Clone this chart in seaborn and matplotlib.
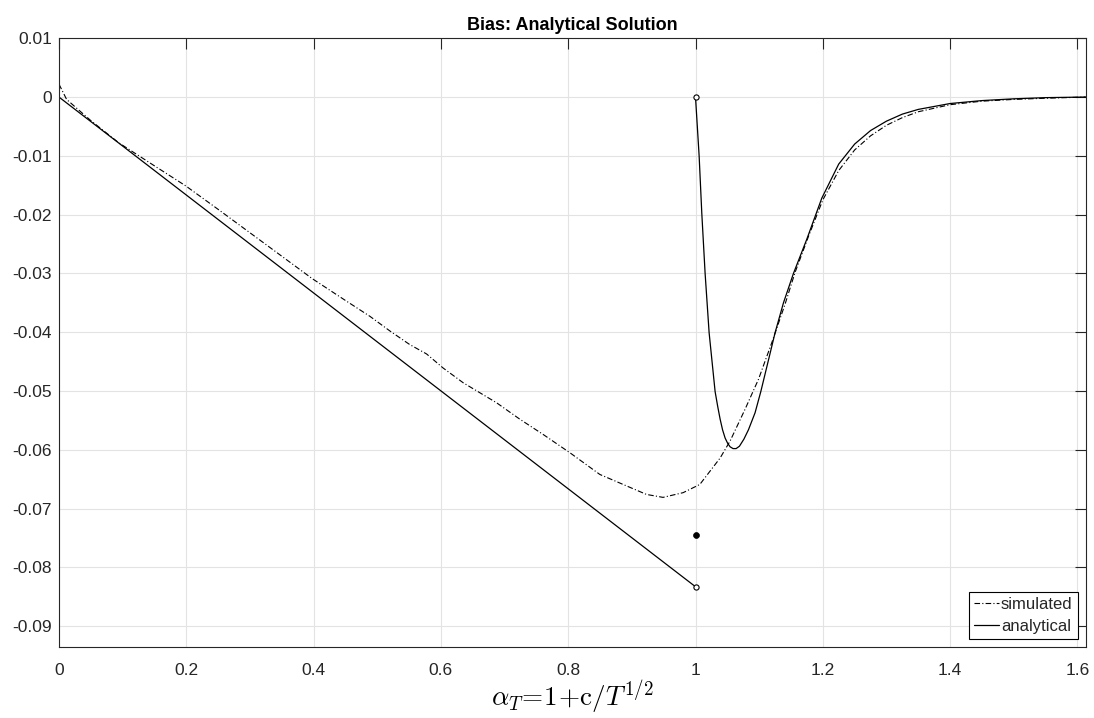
import numpy as np
import pandas as pd
import matplotlib
matplotlib.use("Agg")
import matplotlib.pyplot as plt
import seaborn as sns
from matplotlib.ticker import FuncFormatter

# ---------------- data ----------------
sim_x = [0.0, 0.012, 0.05, 0.0942, 0.15, 0.199, 0.25, 0.314, 0.398, 0.45,
         0.4885, 0.520, 0.551, 0.5775, 0.6036, 0.635, 0.6874, 0.724, 0.7607,
         0.8026, 0.8497, 0.8863, 0.923, 0.949, 0.9805, 1.0068, 1.0387, 1.0544,
         1.0779, 1.099, 1.1198, 1.1408, 1.1565, 1.1775, 1.20, 1.225, 1.25,
         1.275, 1.30, 1.325, 1.35, 1.40, 1.45, 1.50, 1.55, 1.613]
sim_y = [0.0022, -0.0004, -0.0040, -0.0078, -0.0117, -0.0151, -0.0191, -0.0242,
         -0.0309, -0.0346, -0.0373, -0.0398, -0.0421, -0.0437, -0.0461, -0.0486,
         -0.0520, -0.0548, -0.0574, -0.0605, -0.0642, -0.0659, -0.0676, -0.0681,
         -0.0673, -0.0659, -0.0614, -0.0585, -0.0531, -0.0480, -0.0418, -0.0352,
         -0.0298, -0.0237, -0.0175, -0.0125, -0.0090, -0.0066, -0.0048, -0.0035,
         -0.0025, -0.0013, -0.0007, -0.0004, -0.0002, 0.0]

ana_lin_x = [0.0, 1.0]
ana_lin_y = [0.0, -0.0833]

ana_r_x = [1.0, 1.0057, 1.0099, 1.0151, 1.0214, 1.0308, 1.0350, 1.0387, 1.0425,
           1.0465, 1.0505, 1.0544, 1.0590, 1.0638, 1.0690, 1.0760, 1.0832,
           1.0936, 1.1026, 1.1136, 1.1250, 1.1382, 1.1539, 1.1748, 1.1984,
           1.225, 1.25, 1.275, 1.30, 1.325, 1.35, 1.40, 1.45, 1.50, 1.55, 1.613]
ana_r_y = [0.0, -0.0100, -0.0198, -0.0300, -0.0401, -0.0501, -0.0527, -0.0548,
           -0.0566, -0.0580, -0.0589, -0.0595, -0.0598, -0.0598, -0.0594,
           -0.0582, -0.0566, -0.0537, -0.0501, -0.0452, -0.0401, -0.0350,
           -0.0300, -0.0242, -0.0172, -0.0114, -0.0080, -0.0057, -0.0041,
           -0.0029, -0.0021, -0.0011, -0.0006, -0.0003, -0.0001, 0.0]

open_x = [1.0, 1.0]
open_y = [0.0, -0.0833]
dot_x = [1.0]
dot_y = [-0.0745]

x_ticks = [0, 0.2, 0.4, 0.6, 0.8, 1.0, 1.2, 1.4, 1.6]
y_ticks = [-0.09, -0.08, -0.07, -0.06, -0.05, -0.04, -0.03, -0.02, -0.01, 0.0, 0.01]

title = "Bias: Analytical Solution"
xlabel = r"$\alpha_T\!=\!1\!+\!\mathrm{c}/T^{1/2}$"
labels = ["simulated", "analytical"]

# ---------------- style ----------------
sns.set_style("white")
plt.rcParams["font.family"] = ["Liberation Sans", "DejaVu Sans"]
plt.rcParams["axes.unicode_minus"] = False
plt.rcParams["mathtext.fontset"] = "cm"

fig = plt.figure(figsize=(10.94, 7.18), dpi=100)
ax = fig.add_axes([0.0539, 0.0985, 0.9388, 0.8482])

dark = "#262626"

sim_df = pd.DataFrame({"x": sim_x, "y": sim_y})
lin_df = pd.DataFrame({"x": ana_lin_x, "y": ana_lin_y})
right_df = pd.DataFrame({"x": ana_r_x, "y": ana_r_y})

sns.lineplot(data=sim_df, x="x", y="y", ax=ax, color="black", linewidth=0.8,
             linestyle=(0, (5, 2, 1, 2)), estimator=None, sort=False)
sns.lineplot(data=lin_df, x="x", y="y", ax=ax, color="black", linewidth=0.9,
             estimator=None, sort=False)
sns.lineplot(data=right_df, x="x", y="y", ax=ax, color="black", linewidth=0.9,
             estimator=None, sort=False)

sns.scatterplot(x=open_x, y=open_y, ax=ax, s=14, facecolor="white",
                edgecolor="black", linewidth=0.8, zorder=5)
sns.scatterplot(x=dot_x, y=dot_y, ax=ax, s=18, color="black",
                edgecolor="black", linewidth=0.5, zorder=5)

lines = ax.get_lines()
leg = ax.legend([lines[0], lines[1]], labels, loc="lower right",
                fontsize=12, frameon=True, fancybox=False, framealpha=1,
                edgecolor="black", borderpad=0.3, labelspacing=0.4,
                handlelength=1.5, handletextpad=0.1, borderaxespad=0.5)
leg.get_frame().set_linewidth(0.8)

ax.set_xlim(0, 1.6135)
ax.set_ylim(-0.0936, 0.01)
ax.set_xticks(x_ticks)
ax.set_yticks(y_ticks)

def fmt(v, p):
    v = round(v, 4)
    if v == 0:
        return "0"
    return f"{v:g}"

ax.xaxis.set_major_formatter(FuncFormatter(fmt))
ax.yaxis.set_major_formatter(FuncFormatter(fmt))

ax.grid(True, color="#e3e3e3", linewidth=0.8)
ax.set_axisbelow(True)
for sp in ax.spines.values():
    sp.set_visible(True)
    sp.set_color(dark)
    sp.set_linewidth(0.8)

ax.tick_params(axis="both", which="major", direction="in", length=8,
               width=0.8, color=dark, labelcolor=dark, labelsize=12.5,
               top=True, right=True)
ax.tick_params(axis="x", pad=11)
ax.tick_params(axis="y", pad=5)

ax.set_title(title, fontsize=13, fontweight="bold", pad=6, color="black")
ax.set_xlabel(xlabel, fontsize=19.5, labelpad=1, color="black")
ax.set_ylabel("")

fig.savefig("out.png", dpi=100)
